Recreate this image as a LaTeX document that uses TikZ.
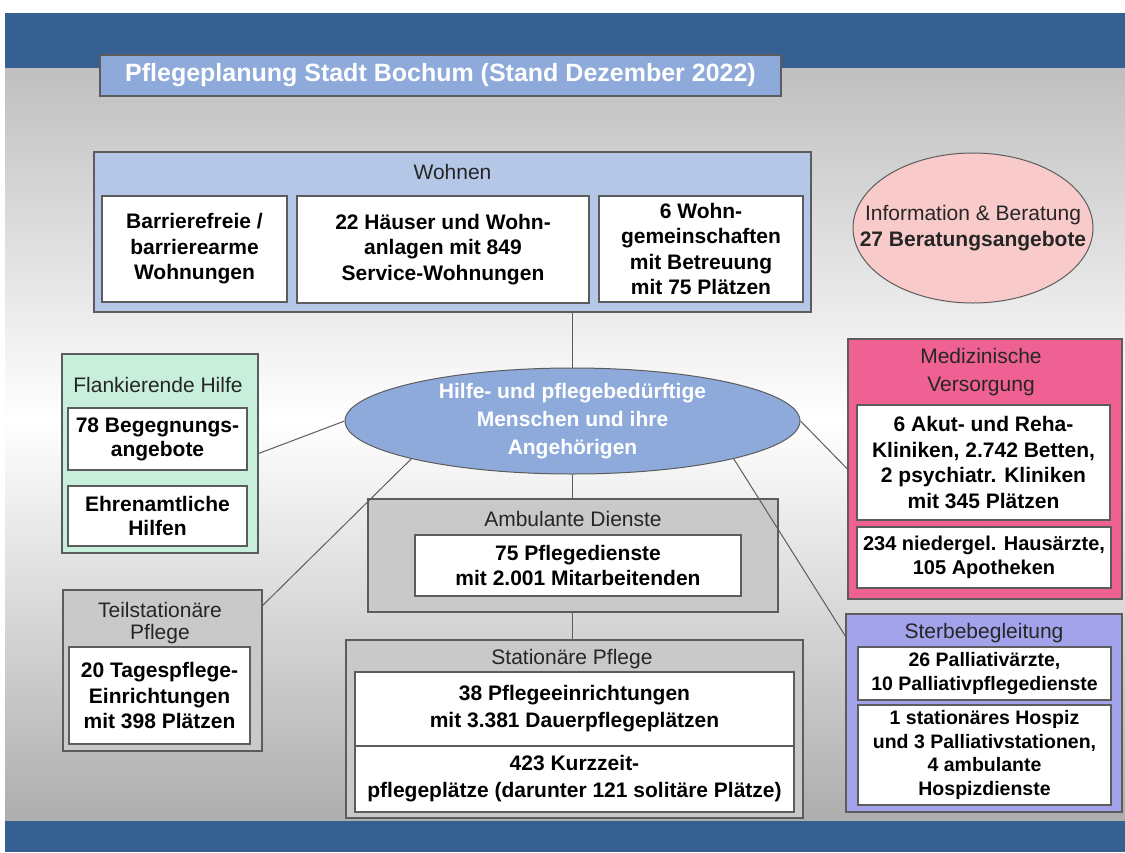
\documentclass[tikz,border=0pt]{standalone}
\usepackage{fontspec}
\setmainfont{Liberation Sans}
\usetikzlibrary{shapes.geometric}

\definecolor{bandblue}{HTML}{365F92}
\definecolor{titleblue}{HTML}{8EAADB}
\definecolor{wohnblue}{HTML}{B4C7E7}
\definecolor{infopink}{HTML}{F8CACA}
\definecolor{mint}{HTML}{C8EEDC}
\definecolor{medpink}{HTML}{EF6093}
\definecolor{boxgray}{HTML}{C9C9C9}
\definecolor{lavender}{HTML}{A3A3EB}
\definecolor{rim}{HTML}{5C5C5C}

\begin{document}
\begin{tikzpicture}[x=1pt,y=-1pt,
  grp/.style={draw=rim, line width=1.2pt, rectangle, inner sep=0pt},
  inbox/.style={draw=rim, line width=1.2pt, fill=white, rectangle, inner sep=0pt, align=center,
    font=\fontsize{21}{25.5}\selectfont\bfseries},
  hd/.style={align=center, font=\fontsize{21}{24}\selectfont, text=black!85},
  link/.style={draw=rim, line width=1pt}]
\useasboundingbox (0,0) rectangle (1125,852);
% background
\fill[white] (0,0) rectangle (1125,852);
\shade[top color=black!25, bottom color=white] (5,68) rectangle (1125,420);
\shade[top color=white, bottom color=black!32] (5,420) rectangle (1125,821);
\fill[bandblue] (5,13) rectangle (1125,68);
\fill[bandblue] (5,821) rectangle (1125,852);

\node[grp, fill=titleblue, minimum width=681pt, minimum height=41pt, text=white,
  font=\fontsize{25}{30}\selectfont\bfseries] (title) at (440.5,75.5) {Pflegeplanung Stadt Bochum (Stand Dezember 2022)};

% Wohnen
\node[grp, fill=wohnblue, minimum width=717pt, minimum height=160pt] (wohnen) at (452.5,232) {};
\node[hd] (wohnenhd) at (452.5,172) {Wohnen};
\node[inbox, minimum width=185pt, minimum height=106pt] (barr) at (194.5,249) {Barrierefreie /\\barrierearme\\Wohnungen};
\node[inbox, minimum width=292pt, minimum height=107pt] (haeuser) at (443,249.5) {22 Häuser und Wohn-\\anlagen mit 849\\Service-Wohnungen};
\node[inbox, minimum width=204pt, minimum height=106pt] (wg) at (701,249) {6 Wohn-\\gemeinschaften\\mit Betreuung\\mit 75 Plätzen};

% Information
\node[ellipse, draw=rim, line width=1pt, fill=infopink, minimum width=240pt, minimum height=150pt] (info) at (973,228) {};
\node[align=center, font=\fontsize{21}{26}\selectfont, text=black!85] (infotxt) at (info) {Information \& Beratung\\\textbf{27 Beratungsangebote}};

% Mitte
\node[ellipse, draw=rim, line width=1pt, fill=titleblue, minimum width=455pt, minimum height=106pt] (hum) at (572.5,421) {};
\node[align=center, text=white, font=\fontsize{21}{28}\selectfont\bfseries] (humtxt) at (hum) {Hilfe- und pflegebedürftige\\Menschen und ihre\\Angehörigen};

% Flankierende Hilfe
\node[grp, fill=mint, minimum width=196pt, minimum height=199pt] (flank) at (160,453.5) {};
\node[hd] (flankhd) at (158,385) {Flankierende Hilfe};
\node[inbox, minimum width=179pt, minimum height=62pt, font=\fontsize{21}{24}\selectfont\bfseries] (beg) at (157.5,439) {78 Begegnungs-\\angebote};
\node[inbox, minimum width=179pt, minimum height=60pt, font=\fontsize{21}{24}\selectfont\bfseries] (ehren) at (157.5,516) {Ehrenamtliche\\Hilfen};

% Medizinische Versorgung
\node[grp, fill=medpink, minimum width=274pt, minimum height=260pt] (med) at (985,469) {};
\node[hd, font=\fontsize{21}{28}\selectfont] (medhd) at (981,372) {Medizinische\\Versorgung};
\node[inbox, minimum width=253pt, minimum height=115pt] (akut) at (983.5,462.5) {6 Akut- und Reha-\\Kliniken, 2.742 Betten,\\2 psychiatr. Kliniken\\mit 345 Plätzen};
\node[inbox, minimum width=254pt, minimum height=61pt, font=\fontsize{20}{24}\selectfont\bfseries] (haus) at (984,557.5) {234 niedergel. Hausärzte,\\105 Apotheken};

% Ambulante Dienste
\node[grp, fill=boxgray, minimum width=410pt, minimum height=113pt] (amb) at (573,555.5) {};
\node[hd] (ambhd) at (573,519) {Ambulante Dienste};
\node[inbox, minimum width=326pt, minimum height=61pt, font=\fontsize{21}{25}\selectfont\bfseries] (pfd) at (578,565.5) {75 Pflegedienste\\mit 2.001 Mitarbeitenden};

% Teilstationaere Pflege
\node[grp, fill=boxgray, minimum width=199pt, minimum height=161pt] (teil) at (162.5,670.5) {};
\node[hd, font=\fontsize{21}{22}\selectfont] (teilhd) at (160,623) {Teilstationäre\\Pflege};
\node[inbox, minimum width=181pt, minimum height=97pt] (tages) at (159.5,695.5) {20 Tagespflege-\\Einrichtungen\\mit 398 Plätzen};

% Stationaere Pflege
\node[grp, fill=boxgray, minimum width=457pt, minimum height=178pt] (stat) at (574.5,729) {};
\node[hd] (stathd) at (572,659) {Stationäre Pflege};
\node[inbox, minimum width=439pt, minimum height=74pt, font=\fontsize{21}{27}\selectfont\bfseries] (dauer) at (574.5,709) {38 Pflegeeinrichtungen\\mit 3.381 Dauerpflegeplätzen};
\node[inbox, minimum width=439pt, minimum height=66pt, font=\fontsize{21}{27}\selectfont\bfseries] (kurz) at (574.5,779) {423 Kurzzeit-\\pflegeplätze (darunter 121 solitäre Plätze)};

% Sterbebegleitung
\node[grp, fill=lavender, minimum width=276pt, minimum height=198pt] (sterbe) at (984,713) {};
\node[hd] (sterbehd) at (984,633) {Sterbebegleitung};
\node[inbox, minimum width=253pt, minimum height=53pt, font=\fontsize{19.5}{24}\selectfont\bfseries] (palli) at (984.5,673.5) {26 Palliativärzte,\\10 Palliativpflegedienste};
\node[inbox, minimum width=253pt, minimum height=100pt, font=\fontsize{19.5}{23.4}\selectfont\bfseries] (hospiz) at (984.5,755) {1 stationäres Hospiz\\und 3 Palliativstationen,\\4 ambulante\\Hospizdienste};

% Verbindungen
\draw[link] (wohnen.south -| hum.north) -- (hum.north);
\draw[link] (hum.west) -- (flank.east);
\draw[link] (hum.south west) -- (teil.33);
\draw[link] (hum.south) -- (amb.north -| hum.south);
\draw[link] (amb.south -| hum.south) -- (stat.north -| hum.south);
\draw[link] (hum.east) -- (med.west);
\draw[link] (hum.south east) -- (sterbe.151);
\end{tikzpicture}
\end{document}
